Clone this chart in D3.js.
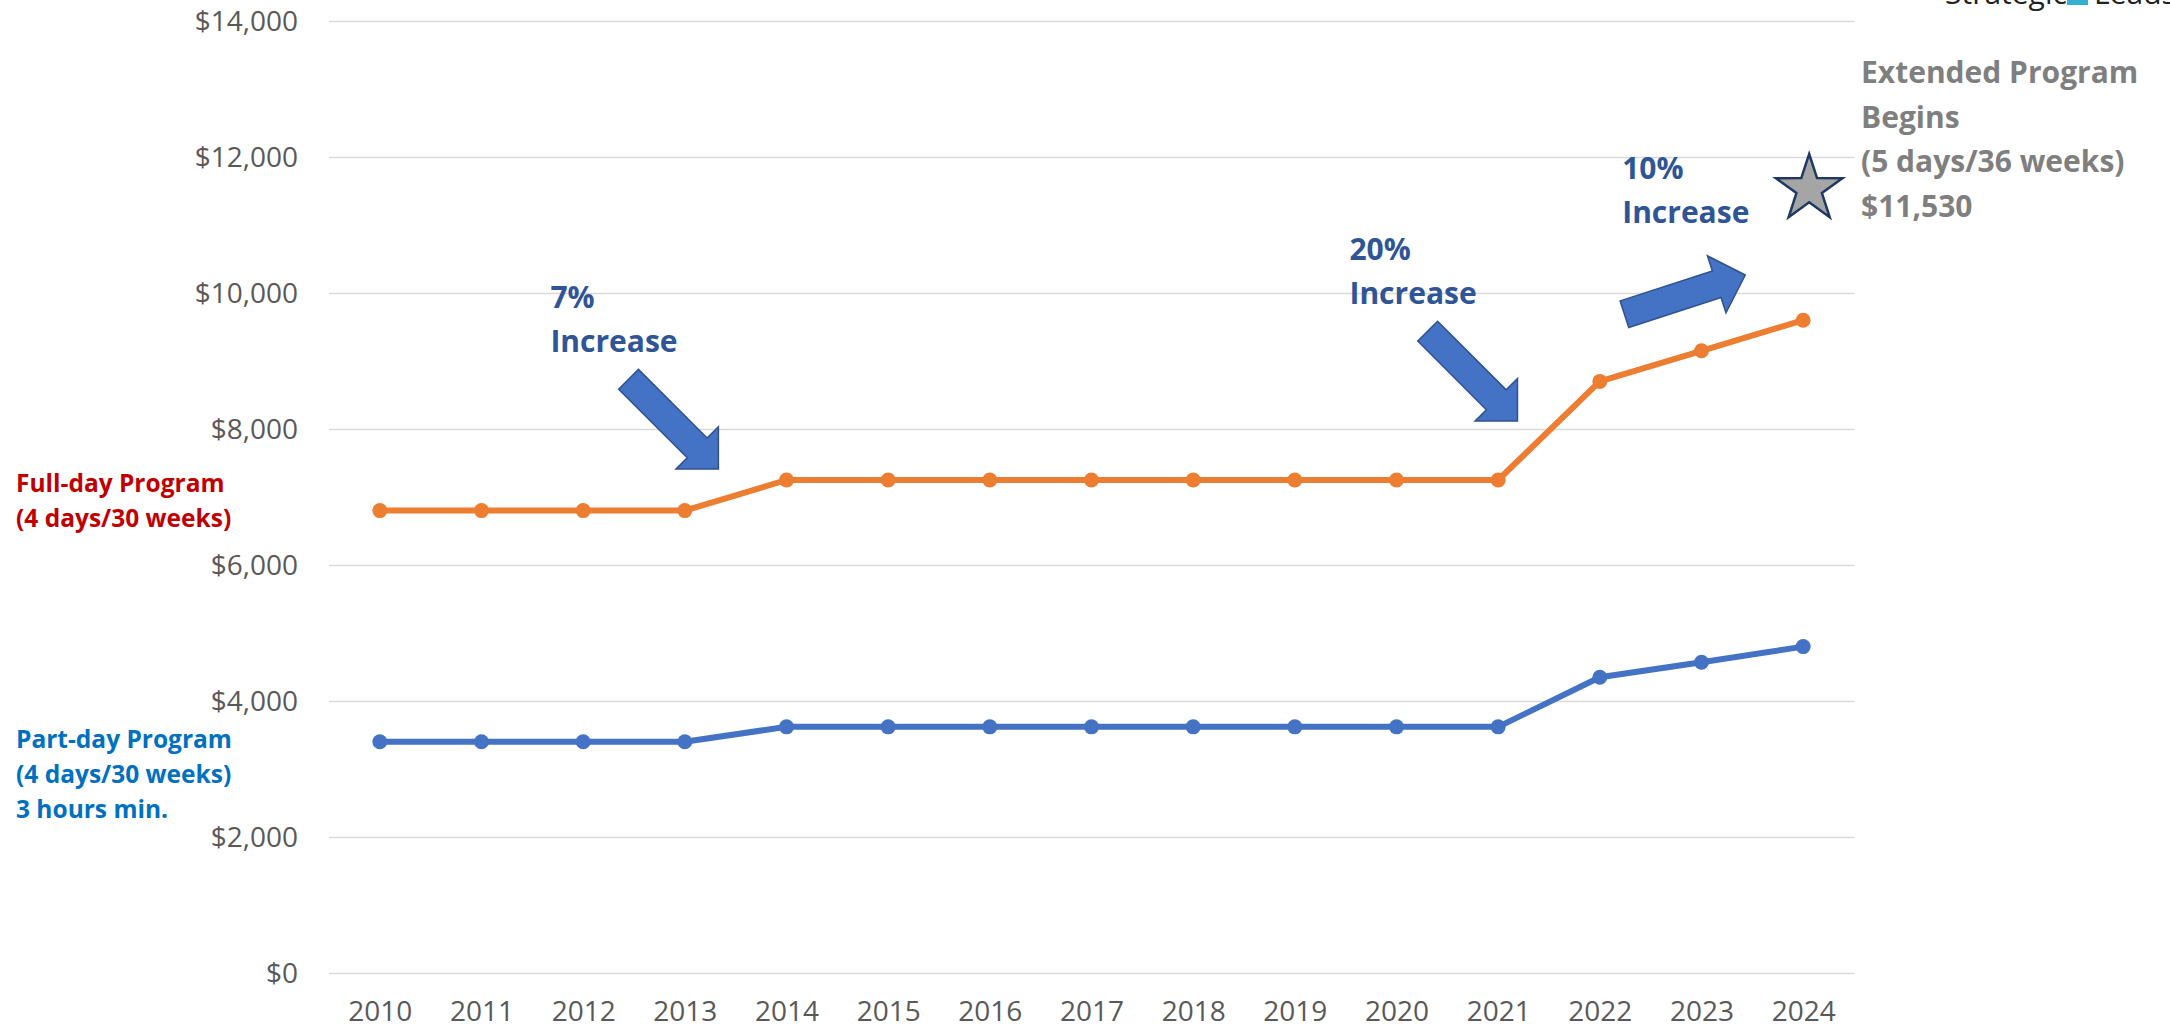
<!DOCTYPE html>
<html>
<head>
<meta charset="utf-8">
<script src="https://cdn.jsdelivr.net/npm/d3@7"></script>
<style>
  html, body { margin: 0; padding: 0; background: #fff; }
  svg { display: block; font-family: 'Open Sans', sans-serif; }
</style>
</head>
<body>
<svg id="chart" width="2170" height="1029"></svg>
<script>
const years = ['2010','2011','2012','2013','2014','2015','2016','2017','2018','2019','2020','2021','2022','2023','2024'];
const fullDay = [6800, 6800, 6800, 6800, 7250, 7250, 7250, 7250, 7250, 7250, 7250, 7250, 8700, 9150, 9600];
const partDay = [3400, 3400, 3400, 3400, 3620, 3620, 3620, 3620, 3620, 3620, 3620, 3620, 4350, 4570, 4800];
const yTicks = [0, 2000, 4000, 6000, 8000, 10000, 12000, 14000];

// extended program (star)
const extendedYear = '2024';
const extendedValue = 11530;
const extendedLines = ['Extended Program', 'Begins', '(5 days/36 weeks)', '$11,530'];

// arrow annotations: tip at fractional year index + value
const arrows = [
  {idx: 3.33, value: 7410, angle: 45, lines: ['7%', 'Increase'], dx: -168, dy: -161},
  {idx: 11.19, value: 8118, angle: 45, lines: ['20%', 'Increase'], dx: -168, dy: -161},
  {idx: 13.43, value: 10265, angle: -18, lines: ['10%', 'Increase'], dx: -123, dy: -96}
];

const fullLabel = ['Full-day Program', '(4 days/30 weeks)'];
const partLabel = ['Part-day Program', '(4 days/30 weeks)', '3 hours min.'];

const svg = d3.select('#chart');
const plotLeft = 329, plotRight = 1854, plotTop = 21, plotBottom = 973;

const x = d3.scalePoint().domain(years).range([plotLeft, plotRight]).padding(0.5);
const y = d3.scaleLinear().domain([0, 14000]).range([plotBottom, plotTop]);
const xAt = i => x(years[0]) + i * x.step();

// gridlines + y labels
const yAxis = svg.append('g')
  .attr('transform', `translate(${plotLeft},0)`)
  .call(d3.axisLeft(y).tickValues(yTicks).tickFormat(d3.format('$,'))
    .tickSize(-(plotRight - plotLeft)).tickPadding(31));
yAxis.select('.domain').remove();
yAxis.selectAll('.tick line').attr('stroke', '#d9d9d9').attr('stroke-width', 1.5);
yAxis.selectAll('.tick text')
  .attr('fill', '#595959')
  .style('font-size', '28px')
  .style('font-family', "'Open Sans', sans-serif")
  .attr('dy', '0.34em');

// x labels
const xAxis = svg.append('g')
  .attr('transform', `translate(0,${plotBottom})`)
  .call(d3.axisBottom(x).tickSize(0).tickPadding(28));
xAxis.select('.domain').remove();
xAxis.selectAll('.tick text')
  .attr('fill', '#595959')
  .style('font-size', '28px')
  .style('font-family', "'Open Sans', sans-serif");

// series
const line = d3.line().x((d, i) => x(years[i])).y(d => y(d));
[[fullDay, '#ed7d31'], [partDay, '#4472c4']].forEach(([vals, col]) => {
  svg.append('path')
    .datum(vals)
    .attr('d', line)
    .attr('fill', 'none')
    .attr('stroke', col)
    .attr('stroke-width', 6)
    .attr('stroke-linejoin', 'round');
  svg.append('g')
    .selectAll('circle')
    .data(vals)
    .enter()
    .append('circle')
    .attr('cx', (d, i) => x(years[i]))
    .attr('cy', d => y(d))
    .attr('r', 7.5)
    .attr('fill', col);
});

// block arrows
const arrowShape = [[0, 0], [-30, -30], [-30, -14], [-127, -14], [-127, 14], [-30, 14], [-30, 30]];
arrows.forEach(a => {
  const tx = xAt(a.idx), ty = y(a.value);
  svg.append('polygon')
    .attr('points', arrowShape.map(p => p.join(',')).join(' '))
    .attr('transform', `translate(${tx},${ty}) rotate(${a.angle})`)
    .attr('fill', '#4472c4')
    .attr('stroke', '#2f528f')
    .attr('stroke-width', 1.5)
    .attr('stroke-linejoin', 'miter');
  const t = svg.append('text')
    .attr('x', tx + a.dx)
    .attr('y', ty + a.dy)
    .attr('fill', '#2f5597')
    .style('font-size', '30px')
    .style('font-weight', 700);
  a.lines.forEach((s, i) => {
    t.append('tspan').attr('x', tx + a.dx).attr('dy', i ? 44 : 0).text(s);
  });
});

// star
const star = d3.range(10).map(i => {
  const r = i % 2 ? 13.4 : 35;
  const ang = -Math.PI / 2 + i * Math.PI / 5;
  return [r * Math.cos(ang), r * Math.sin(ang)];
});
svg.append('polygon')
  .attr('points', star.map(p => p.join(',')).join(' '))
  .attr('transform', `translate(${x(extendedYear) + 6},${y(extendedValue)})`)
  .attr('fill', '#a5a5a5')
  .attr('stroke', '#1f3864')
  .attr('stroke-width', 2.5);

const ext = svg.append('text')
  .attr('x', 1861).attr('y', 83)
  .attr('fill', '#7f7f7f')
  .style('font-size', '30px')
  .style('font-weight', 700);
extendedLines.forEach((s, i) => {
  ext.append('tspan').attr('x', 1861).attr('dy', i ? 44.7 : 0).text(s);
});

// left labels
function leftLabel(lines, y0, col) {
  const t = svg.append('text')
    .attr('x', 16).attr('y', y0)
    .attr('fill', col)
    .style('font-size', '24.5px')
    .style('font-weight', 700);
  lines.forEach((s, i) => {
    t.append('tspan').attr('x', 16).attr('dy', i ? 35 : 0).text(s);
  });
}
leftLabel(fullLabel, 492, '#c00000');
leftLabel(partLabel, 748, '#0070c0');

// logo, cut off at top edge
svg.append('text').attr('x', 1945).attr('y', 4)
  .style('font-size', '30px').attr('fill', '#222').text('Strategic');
svg.append('rect').attr('x', 2067).attr('y', 0).attr('width', 21).attr('height', 5).attr('fill', '#31b0d0');
svg.append('text').attr('x', 2094).attr('y', 4)
  .style('font-size', '30px').attr('fill', '#222').text('Leads');
</script>
</body>
</html>
